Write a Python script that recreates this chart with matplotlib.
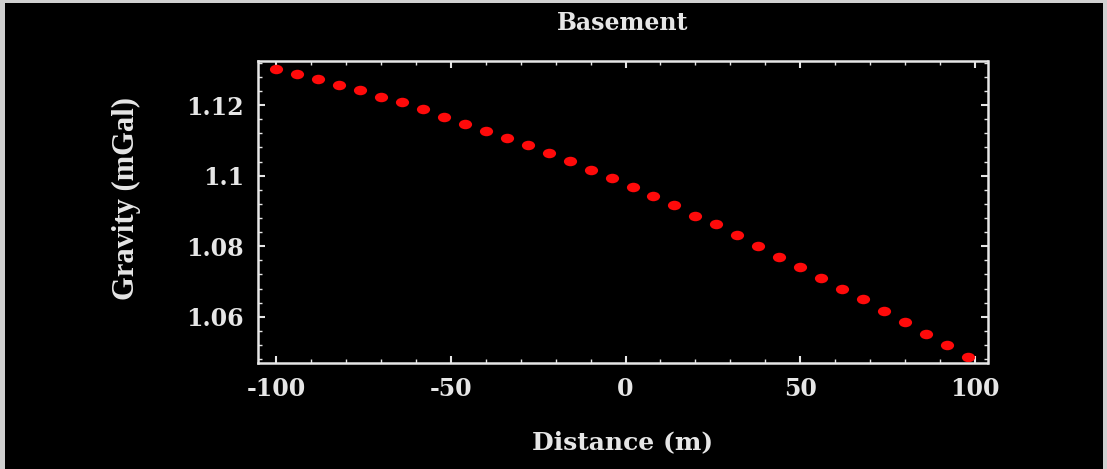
import numpy as np
import matplotlib
matplotlib.use('Agg')
import matplotlib.pyplot as plt
from matplotlib.path import Path
from matplotlib.patches import Rectangle
from matplotlib.ticker import MultipleLocator

# data
distance = [-100, -94, -88, -82, -76, -70, -64, -58, -52, -46, -40, -34,
            -28, -22, -16, -10, -4, 2, 8, 14, 20, 26, 32, 38, 44, 50,
            56, 62, 68, 74, 80, 86, 92, 98]
gravity = [1.1302, 1.1288, 1.1273, 1.1258, 1.1243, 1.1224, 1.1208, 1.1188,
           1.1167, 1.1146, 1.1127, 1.1107, 1.1088, 1.1063, 1.1041, 1.1016,
           1.0992, 1.0969, 1.0942, 1.0917, 1.0886, 1.0862, 1.0832, 1.0801,
           1.0770, 1.0741, 1.0711, 1.0680, 1.0650, 1.0616, 1.0585, 1.0550,
           1.0519, 1.0485]
xticks = [-100, -50, 0, 50, 100]
yticks = [1.06, 1.08, 1.1, 1.12]
ytick_labels = ['1.06', '1.08', '1.1', '1.12']

fg = '#e6e6e6'

fig = plt.figure(figsize=(11.07, 4.69), dpi=100, facecolor='#d0d0d0')
# black panel inside a thin light frame
fig.patches.append(Rectangle((5 / 1107, 0), 1 - 9 / 1107, 1 - 3 / 469,
                             transform=fig.transFigure, facecolor='black',
                             edgecolor='none', zorder=-1))

ax = fig.add_axes([258 / 1107, 1 - 363 / 469, 729.5 / 1107, 302 / 469])
ax.set_facecolor('black')

# slightly flattened dots
circ = Path.unit_circle()
ellipse = Path(circ.vertices * np.array([1.0, 0.72]), circ.codes)
ax.plot(distance, gravity, linestyle='none', marker=ellipse,
        markersize=9.5, color='#ff0a0a', markeredgewidth=0)

ax.set_xlim(-105.2, 103.6)
ax.set_ylim(1.0469, 1.1325)

ax.set_xticks(xticks)
ax.set_xticklabels([str(t) for t in xticks])
ax.set_yticks(yticks)
ax.set_yticklabels(ytick_labels)
ax.xaxis.set_minor_locator(MultipleLocator(10))
ax.yaxis.set_minor_locator(MultipleLocator(0.004))

for s in ax.spines.values():
    s.set_color(fg)
    s.set_linewidth(1.8)

ax.tick_params(which='both', direction='in', top=True, right=True, colors=fg)
ax.tick_params(which='major', length=5, width=1.5, pad=10)
ax.tick_params(which='minor', length=3, width=1.0)
for lab in ax.get_xticklabels() + ax.get_yticklabels():
    lab.set_fontfamily('DejaVu Serif')
    lab.set_fontweight('bold')
    lab.set_fontsize(17)
    lab.set_color(fg)

ax.set_title('Basement', fontsize=17, fontweight='bold', family='DejaVu Serif',
             color=fg, y=1.075)
ax.set_xlabel('Distance (m)', fontsize=18, fontweight='bold',
              family='DejaVu Serif', color=fg)
ax.xaxis.set_label_coords(0.5, -0.222)
ax.set_ylabel('Gravity (mGal)', fontsize=22, fontweight='bold',
              family='Liberation Serif', color=fg)
ax.yaxis.set_label_coords(-0.16, 0.545)

fig.savefig('out.png', dpi=100, facecolor=fig.get_facecolor())
